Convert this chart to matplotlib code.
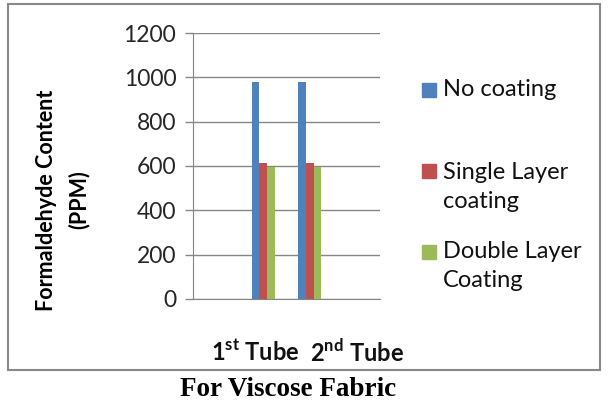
import matplotlib
matplotlib.use('Agg')
import matplotlib.pyplot as plt
from matplotlib.patches import Rectangle

# data
slots = ['', '1st Tube', '2nd Tube', '']
series = ['No coating', 'Single Layer\ncoating', 'Double Layer\nCoating']
no_coating = [0, 980, 980, 0]
single_layer = [0, 615, 615, 0]
double_layer = [0, 595, 595, 0]
tick_labels = [r'1$^{\mathbf{st}}$ Tube', r'2$^{\mathbf{nd}}$ Tube']
yticks = [0, 200, 400, 600, 800, 1000, 1200]

colors = ['#4f81bd', '#c0504d', '#9bbb59']

plt.rcParams['font.family'] = ['Lato', 'DejaVu Sans']
plt.rcParams['mathtext.fontset'] = 'custom'
plt.rcParams['mathtext.rm'] = 'Lato:bold'
plt.rcParams['mathtext.bf'] = 'Lato:bold'

fig = plt.figure(figsize=(6.08, 4.03), dpi=100)
ax = fig.add_axes([0.3174, 0.2581, 0.3076, 0.66])

x = list(range(len(slots)))
w = 0.163
for i, (vals, c) in enumerate(zip([no_coating, single_layer, double_layer], colors)):
    ax.bar([p + (i - 1) * w for p in x], vals, width=w, color=c, zorder=3)

ax.set_xlim(-0.5, 3.5)
ax.set_ylim(0, 1200)
ax.set_yticks(yticks)
ax.set_yticklabels([str(v) for v in yticks], fontsize=16.5, color='#262626')
ax.set_xticks([])
ax.grid(axis='y', color='#868686', linewidth=1, zorder=0)
ax.tick_params(axis='y', length=6, width=1, color='#868686', pad=6)
for s in ['top', 'right']:
    ax.spines[s].set_visible(False)
for s in ['left', 'bottom']:
    ax.spines[s].set_color('#868686')

# category labels (placed as in the original)
for lab, xp in zip(tick_labels, [255, 357]):
    fig.text(xp / 608, 1 - 352 / 403, lab, ha='center', va='center',
             fontsize=17, fontweight='bold', color='#111111')

# y label
fig.text(63 / 608, 1 - 200 / 403, 'Formaldehyde Content\n(PPM)', rotation=90,
         ha='center', va='center', fontsize=15.5, fontweight='bold',
         linespacing=1.6, multialignment='center')

# legend drawn by hand so the swatch sits on the first line
swatch_y = [90, 171, 252]
text_y = [90, 187, 266]
for name, c, sy, ty in zip(series, colors, swatch_y, text_y):
    fig.patches.append(Rectangle((422 / 608, 1 - (sy + 7) / 403), 14 / 608, 14 / 403,
                                 transform=fig.transFigure, color=c))
    fig.text(443 / 608, 1 - ty / 403, name, ha='left', va='center',
             fontsize=17, color='#111111', linespacing=1.45)

# frame round the chart
fig.patches.append(Rectangle((8 / 608, 1 - 370 / 403), 592 / 608, 366 / 403,
                             transform=fig.transFigure, fill=False,
                             edgecolor='#888888', linewidth=1.5))

fig.text(288 / 608, 1 - 389 / 403, 'For Viscose Fabric', ha='center', va='center',
         fontsize=19.5, fontweight='bold', family='Liberation Serif')

fig.savefig('out.png', dpi=100)
